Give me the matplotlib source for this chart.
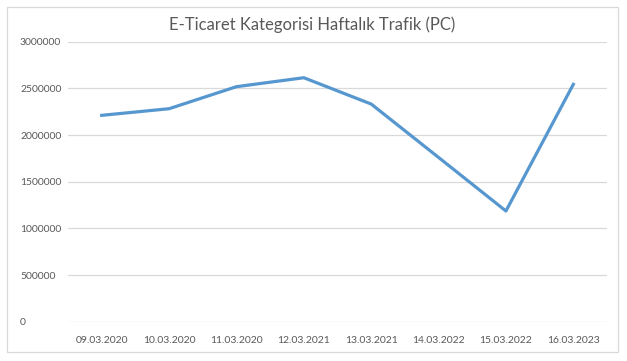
import matplotlib
matplotlib.use("Agg")
import matplotlib.pyplot as plt
from matplotlib.patches import Rectangle

# data
dates = ['09.03.2020', '10.03.2020', '11.03.2020', '12.03.2021',
         '13.03.2021', '14.03.2022', '15.03.2022', '16.03.2023']
traffic = [2211000, 2282000, 2518000, 2614000, 2332000, 1760000, 1186000, 2543000]
y_ticks = [0, 500000, 1000000, 1500000, 2000000, 2500000, 3000000]

plt.rcParams['font.family'] = ['Lato', 'DejaVu Sans']

W, H = 627, 361
fig = plt.figure(figsize=(W / 100, H / 100), dpi=100)
ax = fig.add_axes([68 / W, 1 - 321.7 / H, (607 - 68) / W, (321.7 - 41.7) / H])

x = range(len(dates))
ax.plot(x, traffic, color='#5797cf', lw=2.3, solid_joinstyle='round')

ax.set_xlim(-0.5, len(dates) - 0.5)
ax.set_ylim(0, 3000000)
ax.set_yticks(y_ticks)
ax.set_yticklabels([str(v) for v in y_ticks])
ax.set_xticks(list(x))
ax.set_xticklabels(dates)
ax.yaxis.grid(True, color='#d9d9d9', lw=0.9)
ax.set_axisbelow(True)
for s in ax.spines.values():
    s.set_visible(False)
ax.tick_params(axis='both', length=0, labelsize=7.5, labelcolor='#595959')
ax.tick_params(axis='y', pad=48 * 0.72)
ax.tick_params(axis='x', pad=14 * 0.72)
for lab in ax.get_yticklabels():
    lab.set_horizontalalignment('left')

fig.text(0.5 * (7 + 618) / W, 1 - 25 / H, 'E-Ticaret Kategorisi Haftalık Trafik (PC)',
         ha='center', va='center', fontsize=12, color='#595959')

# light chart border
fig.patches.append(Rectangle((7 / W, 1 - 352 / H), (618 - 7) / W, (352 - 7) / H,
                             transform=fig.transFigure, fill=False,
                             edgecolor='#d9d9d9', lw=0.9))

fig.savefig('out.png', dpi=100)
